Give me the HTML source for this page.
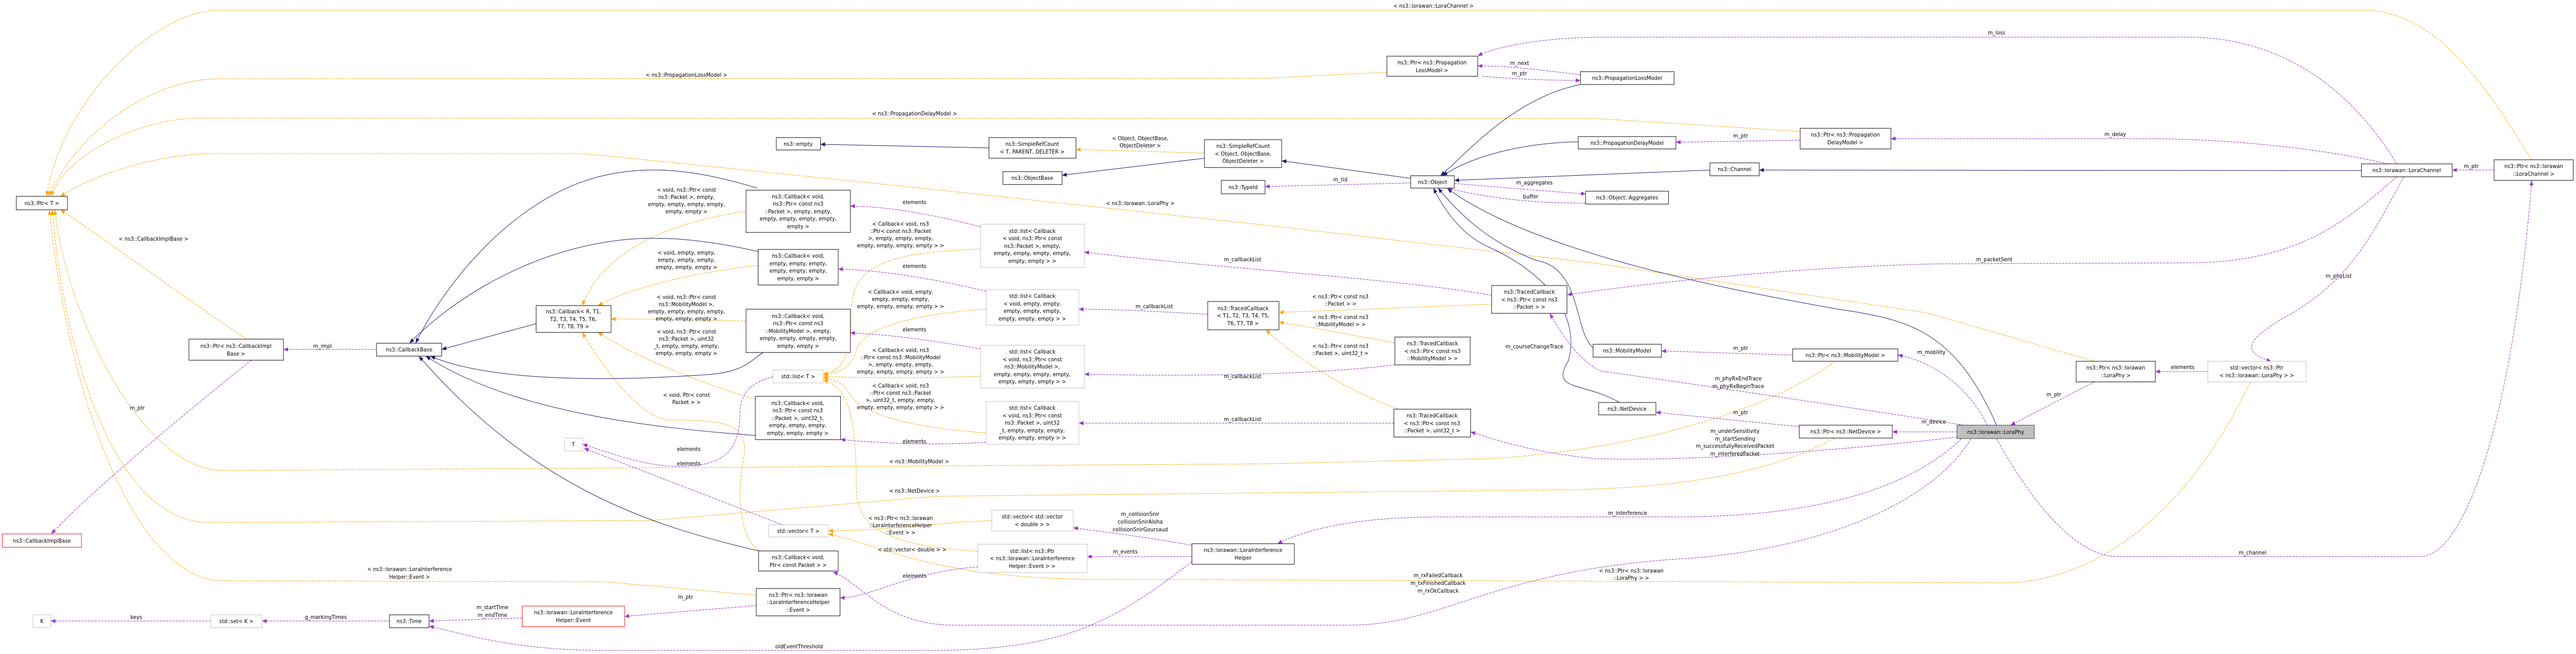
<!DOCTYPE html>
<html><head><meta charset="utf-8"><style>
html,body{margin:0;padding:0;background:#fff;overflow:hidden;width:100%;height:100%;}
svg{display:block;width:100vw;height:100vh;font-family:"DejaVu Sans","Liberation Sans",sans-serif;font-size:11px;}
.n{fill:#fff;stroke:#000;stroke-width:1}
.g{fill:#fff;stroke:#bfbfbf;stroke-width:1}
.r{fill:#fff;stroke:#ff0000;stroke-width:1}
.s{fill:#bfbfbf;stroke:#404040;stroke-width:1}
.nv{fill:none;stroke:#191970;stroke-width:1;marker-end:url(#an)}
.pu{fill:none;stroke:#9a32cd;stroke-width:1;stroke-dasharray:5,2;marker-end:url(#ap)}
.or{fill:none;stroke:#ffa500;stroke-width:1;stroke-dasharray:5,2;marker-end:url(#ao)}
text{fill:#000;text-anchor:middle}
</style></head><body>
<svg viewBox="0 0 5535 1269" preserveAspectRatio="none" xmlns="http://www.w3.org/2000/svg">
<defs>
<marker id="an" markerUnits="userSpaceOnUse" markerWidth="10" markerHeight="8" refX="10" refY="4" orient="auto"><path d="M0,0L10,4L0,8z" fill="#191970"/></marker>
<marker id="ap" markerUnits="userSpaceOnUse" markerWidth="10" markerHeight="8" refX="10" refY="4" orient="auto"><path d="M0,0L10,4L0,8z" fill="#9a32cd"/></marker>
<marker id="ao" markerUnits="userSpaceOnUse" markerWidth="10" markerHeight="8" refX="10" refY="4" orient="auto"><path d="M0,0L10,4L0,8z" fill="#ffa500"/></marker>
</defs>

<path class="or" d="M5440,310 C5380,230 5260,20 5080,20 L470,20 C330,20 130,200 100,381"/>
<path class="or" d="M2980,140 L2720,152 L470,153 C330,153 170,250 104,381"/>
<path class="or" d="M3868,255 L3430,230 L430,229 C300,229 140,300 110,381"/>
<path class="or" d="M4500,701 L4140,607 L3430,511 L2720,437 L2010,368 L1300,302 L1250,298 L470,298 C330,298 200,340 130,381"/>
<path class="or" d="M530,658 C400,580 250,480 130,407"/>
<path class="or" d="M3942,701 C3800,800 3500,874 3200,890 L2720,900 L480,913 C300,913 140,600 118,407"/>
<path class="or" d="M3942,850 C3800,920 3600,951 3300,951 L2010,963 L1400,1010 L450,1014 C250,1014 140,700 112,407"/>
<path class="or" d="M1625,1155 L1300,1129 L480,1127 C300,1127 150,800 106,407"/>
<path class="or" d="M1603,410 C1450,430 1300,480 1251,593"/>
<path class="or" d="M1629,515 C1480,530 1350,560 1285,593"/>
<path class="or" d="M1603,623 C1500,620 1400,619 1313,619"/>
<path class="or" d="M1623,775 C1500,740 1380,700 1285,645"/>
<path class="or" d="M1630,1069 C1590,1040 1580,960 1600,880 C1605,820 1550,815 1440,815 C1380,815 1300,720 1251,645"/>
<path class="or" d="M2107,483 C1950,490 1830,500 1830,600 C1830,690 1810,720 1769,726"/>
<path class="or" d="M2119,600 C1950,610 1850,640 1840,680 C1830,710 1810,722 1769,728"/>
<path class="or" d="M2107,730 C1950,735 1850,732 1769,731"/>
<path class="or" d="M2119,840 C1950,830 1850,800 1830,770 C1815,745 1800,738 1769,734"/>
<path class="or" d="M2101,1070 C1950,1060 1840,1040 1840,950 C1840,800 1820,750 1769,738"/>
<path class="or" d="M2131,1010 C2000,1015 1900,1030 1780,1030"/>
<path class="or" d="M4835,741 C4700,1000 4500,1131 4300,1131 L2336,1124 C2000,1120 1900,1060 1780,1036"/>
<path class="or" d="M3205,590 C3000,598 2850,603 2748,606"/>
<path class="or" d="M2997,665 C2900,650 2820,635 2748,625"/>
<path class="or" d="M3005,794 C2900,760 2790,700 2720,640"/>
<path class="or" d="M2588,297 L2312,290"/>

<path class="nv" d="M2125,287 L1763,280"/>
<path class="nv" d="M2588,307 L2282,340"/>
<path class="nv" d="M3031,346 L2754,312"/>
<path class="nv" d="M3396,164 C3250,190 3150,300 3095,341"/>
<path class="nv" d="M3391,275 C3250,278 3150,310 3100,341"/>
<path class="nv" d="M3674,330 L3125,350"/>
<path class="nv" d="M5074,331 L3780,330"/>
<path class="nv" d="M3423,675 C3380,640 3400,520 3300,505 C3200,470 3140,420 3090,365"/>
<path class="nv" d="M3480,781 C3400,740 3330,760 3370,700 C3400,600 3300,520 3200,480 C3150,460 3110,420 3080,365"/>
<path class="nv" d="M4290,825 C4200,640 4100,620 3950,600 C3700,560 3300,490 3110,366"/>
<path class="nv" d="M1627,365 C1500,330 1400,320 1300,340 C1100,380 950,560 893,666"/>
<path class="nv" d="M1629,488 C1500,462 1400,455 1300,470 C1100,500 950,600 880,666"/>
<path class="nv" d="M1152,628 L949,678"/>
<path class="nv" d="M1640,684 C1610,700 1600,725 1500,728 C1300,740 1050,740 925,691"/>
<path class="nv" d="M1623,845 C1400,830 1100,800 915,691"/>
<path class="nv" d="M1630,1069 C1400,1020 1150,950 900,691"/>

<path class="pu" d="M809,678 L609,678"/>
<path class="pu" d="M540,699 C400,800 200,950 110,1036"/>
<path class="pu" d="M453,1205 L109,1205"/>
<path class="pu" d="M837,1205 L563,1205"/>
<path class="pu" d="M1122,1199 L922,1205"/>
<path class="pu" d="M2561,1090 C2400,1200 2300,1262 2000,1262 L1300,1262 C1100,1262 1000,1230 922,1215"/>
<path class="pu" d="M1625,1175 L1342,1196"/>
<path class="pu" d="M2101,1100 C1950,1110 1870,1160 1805,1160"/>
<path class="pu" d="M1661,731 C1620,740 1590,760 1590,800 C1590,870 1560,905 1460,905 C1380,905 1300,875 1252,862"/>
<path class="pu" d="M1680,1018 C1600,990 1400,920 1255,870"/>
<path class="pu" d="M2107,440 C2000,415 1900,400 1827,400"/>
<path class="pu" d="M2119,565 C2000,540 1900,525 1801,522"/>
<path class="pu" d="M2107,677 C2000,660 1900,648 1827,646"/>
<path class="pu" d="M2119,858 C2000,865 1900,860 1806,853"/>
<path class="pu" d="M2595,610 C2500,605 2400,600 2318,600"/>
<path class="pu" d="M3205,573 C3000,540 2600,520 2330,489"/>
<path class="pu" d="M2997,708 C2800,730 2500,730 2330,726"/>
<path class="pu" d="M2995,821 L2318,821"/>
<path class="pu" d="M3396,145 C3300,135 3250,128 3175,128"/>
<path class="pu" d="M3185,148 C3250,153 3320,156 3396,156"/>
<path class="pu" d="M3031,355 L2718,362"/>
<path class="pu" d="M3125,356 C3250,365 3330,372 3407,376"/>
<path class="pu" d="M3407,394 C3300,395 3200,385 3110,365"/>
<path class="pu" d="M3868,272 L3601,276"/>
<path class="pu" d="M5150,318 C5050,170 4900,72 4700,72 L3430,72 C3300,75 3220,90 3175,108"/>
<path class="pu" d="M5130,318 C5000,290 4800,269 4600,269 L4063,269"/>
<path class="pu" d="M5150,343 C5050,420 4950,510 4700,510 L4160,512 C3800,520 3500,555 3367,572"/>
<path class="pu" d="M5165,343 C5100,450 5050,550 4900,620 C4850,650 4800,680 4880,701"/>
<path class="pu" d="M4744,721 L4631,721"/>
<path class="pu" d="M4500,741 L4320,825"/>
<path class="pu" d="M4290,851 C4350,950 4450,1080 4550,1080 L5200,1080 C5300,1080 5400,800 5440,350"/>
<path class="pu" d="M5359,330 L5269,330"/>
<path class="pu" d="M4270,825 C4230,750 4150,700 4078,689"/>
<path class="pu" d="M4205,838 L4066,838"/>
<path class="pu" d="M3852,689 L3570,681"/>
<path class="pu" d="M3866,828 L3558,800"/>
<path class="pu" d="M4220,825 C3900,780 3600,740 3440,720 C3390,700 3350,640 3330,608"/>
<path class="pu" d="M4205,848 C3900,880 3600,895 3430,890 C3300,880 3200,850 3160,838"/>
<path class="pu" d="M4215,851 C4100,950 3900,1003 3600,1003 L3100,1003 C2900,1003 2800,1030 2745,1055"/>
<path class="pu" d="M4235,851 C4150,980 3900,1070 3600,1085 C3200,1110 3100,1213 2900,1213 L2050,1213 C1900,1213 1850,1130 1790,1110"/>
<path class="pu" d="M2561,1080 L2336,1080"/>
<path class="pu" d="M2561,1058 C2450,1040 2350,1030 2306,1024"/>

<text x="3080" y="15">&lt; ns3::lorawan::LoraChannel &gt;</text>
<text x="1475" y="149">&lt; ns3::PropagationLossModel &gt;</text>
<text x="1965" y="224">&lt; ns3::PropagationDelayModel &gt;</text>
<text x="2450" y="398">&lt; ns3::lorawan::LoraPhy &gt;</text>
<text x="330" y="467">&lt; ns3::CallbackImplBase &gt;</text>
<text x="1975" y="899">&lt; ns3::MobilityModel &gt;</text>
<text x="1965" y="956">&lt; ns3::NetDevice &gt;</text>
<text x="880" y="1108">&lt; ns3::lorawan::LoraInterference</text>
<text x="880" y="1123">Helper::Event &gt;</text>
<text x="1475" y="372">&lt; void, ns3::Ptr&lt; const</text>
<text x="1475" y="386">ns3::Packet &gt;, empty,</text>
<text x="1475" y="400">empty, empty, empty, empty,</text>
<text x="1475" y="414">empty, empty &gt;</text>
<text x="1475" y="494">&lt; void, empty, empty,</text>
<text x="1475" y="508">empty, empty, empty,</text>
<text x="1475" y="522">empty, empty, empty &gt;</text>
<text x="1475" y="580">&lt; void, ns3::Ptr&lt; const</text>
<text x="1475" y="594">ns3::MobilityModel &gt;,</text>
<text x="1475" y="608">empty, empty, empty, empty,</text>
<text x="1475" y="622">empty, empty, empty &gt;</text>
<text x="1475" y="647">&lt; void, ns3::Ptr&lt; const</text>
<text x="1475" y="661">ns3::Packet &gt;, uint32</text>
<text x="1475" y="675">_t, empty, empty, empty,</text>
<text x="1475" y="689">empty, empty, empty &gt;</text>
<text x="1475" y="770">&lt; void, Ptr&lt; const</text>
<text x="1475" y="784">Packet &gt; &gt;</text>
<text x="1480" y="875">elements</text>
<text x="1480" y="903">elements</text>
<text x="1965" y="396">elements</text>
<text x="1965" y="520">elements</text>
<text x="1965" y="643">elements</text>
<text x="1965" y="860">elements</text>
<text x="1965" y="1121">elements</text>
<text x="1935" y="438">&lt; Callback&lt; void, ns3</text>
<text x="1935" y="452">::Ptr&lt; const ns3::Packet</text>
<text x="1935" y="466">&gt;, empty, empty, empty,</text>
<text x="1935" y="480">empty, empty, empty, empty &gt; &gt;</text>
<text x="1935" y="570">&lt; Callback&lt; void, empty,</text>
<text x="1935" y="584">empty, empty, empty,</text>
<text x="1935" y="598">empty, empty, empty, empty &gt; &gt;</text>
<text x="1935" y="683">&lt; Callback&lt; void, ns3</text>
<text x="1935" y="697">::Ptr&lt; const ns3::MobilityModel</text>
<text x="1935" y="711">&gt;, empty, empty, empty,</text>
<text x="1935" y="725">empty, empty, empty, empty &gt; &gt;</text>
<text x="1935" y="752">&lt; Callback&lt; void, ns3</text>
<text x="1935" y="766">::Ptr&lt; const ns3::Packet</text>
<text x="1935" y="780">&gt;, uint32_t, empty, empty,</text>
<text x="1935" y="794">empty, empty, empty, empty &gt; &gt;</text>
<text x="1935" y="1009">&lt; ns3::Ptr&lt; ns3::lorawan</text>
<text x="1935" y="1023">::LoraInterferenceHelper</text>
<text x="1935" y="1037">::Event &gt; &gt;</text>
<text x="1960" y="1070">&lt; std::vector&lt; double &gt; &gt;</text>
<text x="3505" y="1111">&lt; ns3::Ptr&lt; ns3::lorawan</text>
<text x="3505" y="1125">::LoraPhy &gt; &gt;</text>
<text x="2880" y="579">&lt; ns3::Ptr&lt; const ns3</text>
<text x="2880" y="593">::Packet &gt; &gt;</text>
<text x="2880" y="619">&lt; ns3::Ptr&lt; const ns3</text>
<text x="2880" y="633">::MobilityModel &gt; &gt;</text>
<text x="2880" y="675">&lt; ns3::Ptr&lt; const ns3</text>
<text x="2880" y="689">::Packet &gt;, uint32_t &gt;</text>
<text x="2450" y="272">&lt; Object, ObjectBase,</text>
<text x="2450" y="286">ObjectDeleter &gt;</text>
<text x="693" y="675">m_impl</text>
<text x="295" y="795">m_ptr</text>
<text x="293" y="1201">keys</text>
<text x="700" y="1201">g_markingTimes</text>
<text x="1058" y="1182">m_startTime</text>
<text x="1058" y="1197">m_endTime</text>
<text x="1717" y="1258">oldEventThreshold</text>
<text x="1473" y="1162">m_ptr</text>
<text x="2480" y="598">m_callbackList</text>
<text x="2670" y="507">m_callbackList</text>
<text x="2670" y="734">m_callbackList</text>
<text x="2670" y="817">m_callbackList</text>
<text x="3265" y="126">m_next</text>
<text x="3265" y="146">m_ptr</text>
<text x="2880" y="352">m_tid</text>
<text x="3297" y="358">m_aggregates</text>
<text x="3289" y="385">buffer</text>
<text x="3740" y="267">m_ptr</text>
<text x="4290" y="67">m_loss</text>
<text x="4545" y="264">m_delay</text>
<text x="4285" y="507">m_packetSent</text>
<text x="5025" y="539">m_phyList</text>
<text x="4690" y="716">elements</text>
<text x="4413" y="769">m_ptr</text>
<text x="4840" y="1076">m_channel</text>
<text x="5310" y="326">m_ptr</text>
<text x="4150" y="687">m_mobility</text>
<text x="4155" y="822">m_device</text>
<text x="3740" y="679">m_ptr</text>
<text x="3740" y="804">m_ptr</text>
<text x="3297" y="676">m_courseChangeTrace</text>
<text x="3735" y="738">m_phyRxEndTrace</text>
<text x="3735" y="753">m_phyRxBeginTrace</text>
<text x="3728" y="840">m_underSensitivity</text>
<text x="3728" y="855">m_startSending</text>
<text x="3728" y="869">m_successfullyReceivedPacket</text>
<text x="3728" y="884">m_interferedPacket</text>
<text x="3497" y="999">m_interference</text>
<text x="3090" y="1120">m_rxFailedCallback</text>
<text x="3090" y="1135">m_txFinishedCallback</text>
<text x="3090" y="1150">m_rxOkCallback</text>
<text x="2418" y="1074">m_events</text>
<text x="2450" y="1001">m_collisionSnir</text>
<text x="2450" y="1016">collisionSnirAloha</text>
<text x="2450" y="1031">collisionSnirGoursaud</text>

<rect class="n" x="35" y="381" width="110" height="26"/><text x="90" y="398">ns3::Ptr&lt; T &gt;</text>
<rect class="n" x="406" y="658" width="203" height="41"/><text x="507" y="675">ns3::Ptr&lt; ns3::CallbackImpl</text><text x="507" y="690">Base &gt;</text>
<rect class="r" x="5" y="1036" width="170" height="26"/><text x="90" y="1053">ns3::CallbackImplBase</text>
<rect class="n" x="809" y="666" width="140" height="25"/><text x="879" y="682">ns3::CallbackBase</text>
<rect class="n" x="1152" y="593" width="161" height="52"/><text x="1232" y="608">ns3::Callback&lt; R, T1,</text><text x="1232" y="623">T2, T3, T4, T5, T6,</text><text x="1232" y="637">T7, T8, T9 &gt;</text>
<rect class="g" x="1213" y="850" width="39" height="25"/><text x="1232" y="866">T</text>
<rect class="g" x="71" y="1193" width="38" height="25"/><text x="90" y="1209">K</text>
<rect class="g" x="453" y="1193" width="110" height="25"/><text x="508" y="1209">std::set&lt; K &gt;</text>
<rect class="n" x="837" y="1193" width="85" height="25"/><text x="879" y="1209">ns3::Time</text>
<rect class="r" x="1122" y="1176" width="220" height="40"/><text x="1232" y="1192">ns3::lorawan::LoraInterference</text><text x="1232" y="1207">Helper::Event</text>
<rect class="n" x="1668" y="267" width="95" height="24"/><text x="1715" y="283">ns3::empty</text>
<rect class="n" x="1603" y="369" width="224" height="82"/><text x="1715" y="385">ns3::Callback&lt; void,</text><text x="1715" y="399">ns3::Ptr&lt; const ns3</text><text x="1715" y="414">::Packet &gt;, empty, empty,</text><text x="1715" y="428">empty, empty, empty, empty,</text><text x="1715" y="443">empty &gt;</text>
<rect class="n" x="1629" y="484" width="172" height="69"/><text x="1715" y="500">ns3::Callback&lt; void,</text><text x="1715" y="515">empty, empty, empty,</text><text x="1715" y="529">empty, empty, empty,</text><text x="1715" y="544">empty, empty &gt;</text>
<rect class="n" x="1603" y="600" width="224" height="84"/><text x="1715" y="617">ns3::Callback&lt; void,</text><text x="1715" y="631">ns3::Ptr&lt; const ns3</text><text x="1715" y="646">::MobilityModel &gt;, empty,</text><text x="1715" y="660">empty, empty, empty, empty,</text><text x="1715" y="675">empty, empty &gt;</text>
<rect class="g" x="1661" y="718" width="108" height="25"/><text x="1715" y="734">std::list&lt; T &gt;</text>
<rect class="n" x="1623" y="769" width="183" height="84"/><text x="1714" y="786">ns3::Callback&lt; void,</text><text x="1714" y="800">ns3::Ptr&lt; const ns3</text><text x="1714" y="815">::Packet &gt;, uint32_t,</text><text x="1714" y="829">empty, empty, empty,</text><text x="1714" y="844">empty, empty, empty &gt;</text>
<rect class="g" x="1651" y="1018" width="129" height="24"/><text x="1715" y="1034">std::vector&lt; T &gt;</text>
<rect class="n" x="1630" y="1069" width="171" height="39"/><text x="1715" y="1085">ns3::Callback&lt; void,</text><text x="1715" y="1100">Ptr&lt; const Packet &gt; &gt;</text>
<rect class="n" x="1625" y="1142" width="180" height="53"/><text x="1715" y="1158">ns3::Ptr&lt; ns3::lorawan</text><text x="1715" y="1172">::LoraInterferenceHelper</text><text x="1715" y="1187">::Event &gt;</text>
<rect class="n" x="2125" y="267" width="187" height="40"/><text x="2218" y="283">ns3::SimpleRefCount</text><text x="2218" y="298">&lt; T, PARENT, DELETER &gt;</text>
<rect class="n" x="2155" y="333" width="127" height="25"/><text x="2218" y="349">ns3::ObjectBase</text>
<rect class="n" x="2588" y="271" width="166" height="54"/><text x="2671" y="287">ns3::SimpleRefCount</text><text x="2671" y="302">&lt; Object, ObjectBase,</text><text x="2671" y="316">ObjectDeleter &gt;</text>
<rect class="n" x="2624" y="350" width="94" height="26"/><text x="2671" y="367">ns3::TypeId</text>
<rect class="g" x="2107" y="435" width="223" height="84"/><text x="2218" y="452">std::list&lt; Callback</text><text x="2218" y="466">&lt; void, ns3::Ptr&lt; const</text><text x="2218" y="481">ns3::Packet &gt;, empty,</text><text x="2218" y="495">empty, empty, empty, empty,</text><text x="2218" y="510">empty, empty &gt; &gt;</text>
<rect class="g" x="2119" y="562" width="199" height="69"/><text x="2218" y="578">std::list&lt; Callback</text><text x="2218" y="593">&lt; void, empty, empty,</text><text x="2218" y="607">empty, empty, empty,</text><text x="2218" y="622">empty, empty, empty &gt; &gt;</text>
<rect class="g" x="2107" y="670" width="223" height="83"/><text x="2218" y="686">std::list&lt; Callback</text><text x="2218" y="701">&lt; void, ns3::Ptr&lt; const</text><text x="2218" y="715">ns3::MobilityModel &gt;,</text><text x="2218" y="730">empty, empty, empty, empty,</text><text x="2218" y="744">empty, empty, empty &gt; &gt;</text>
<rect class="g" x="2119" y="779" width="199" height="83"/><text x="2218" y="795">std::list&lt; Callback</text><text x="2218" y="810">&lt; void, ns3::Ptr&lt; const</text><text x="2218" y="824">ns3::Packet &gt;, uint32</text><text x="2218" y="839">_t, empty, empty, empty,</text><text x="2218" y="853">empty, empty, empty &gt; &gt;</text>
<rect class="g" x="2131" y="990" width="175" height="40"/><text x="2218" y="1006">std::vector&lt; std::vector</text><text x="2218" y="1021">&lt; double &gt; &gt;</text>
<rect class="g" x="2101" y="1056" width="235" height="55"/><text x="2218" y="1073">std::list&lt; ns3::Ptr</text><text x="2218" y="1087">&lt; ns3::lorawan::LoraInterference</text><text x="2218" y="1102">Helper::Event &gt; &gt;</text>
<rect class="n" x="2595" y="585" width="153" height="55"/><text x="2671" y="602">ns3::TracedCallback</text><text x="2671" y="616">&lt; T1, T2, T3, T4, T5,</text><text x="2671" y="631">T6, T7, T8 &gt;</text>
<rect class="n" x="2561" y="1055" width="220" height="40"/><text x="2671" y="1071">ns3::lorawan::LoraInterference</text><text x="2671" y="1086">Helper</text>
<rect class="n" x="2980" y="109" width="195" height="39"/><text x="3077" y="125">ns3::Ptr&lt; ns3::Propagation</text><text x="3077" y="140">LossModel &gt;</text>
<rect class="n" x="3031" y="341" width="94" height="24"/><text x="3078" y="357">ns3::Object</text>
<rect class="n" x="3396" y="139" width="201" height="25"/><text x="3496" y="155">ns3::PropagationLossModel</text>
<rect class="n" x="3391" y="265" width="210" height="24"/><text x="3496" y="281">ns3::PropagationDelayModel</text>
<rect class="n" x="3407" y="371" width="178" height="25"/><text x="3496" y="387">ns3::Object::Aggregates</text>
<rect class="n" x="3205" y="554" width="162" height="54"/><text x="3286" y="570">ns3::TracedCallback</text><text x="3286" y="585">&lt; ns3::Ptr&lt; const ns3</text><text x="3286" y="599">::Packet &gt; &gt;</text>
<rect class="n" x="2997" y="654" width="162" height="54"/><text x="3078" y="670">ns3::TracedCallback</text><text x="3078" y="685">&lt; ns3::Ptr&lt; const ns3</text><text x="3078" y="699">::MobilityModel &gt; &gt;</text>
<rect class="n" x="2995" y="794" width="165" height="54"/><text x="3077" y="810">ns3::TracedCallback</text><text x="3077" y="825">&lt; ns3::Ptr&lt; const ns3</text><text x="3077" y="839">::Packet &gt;, uint32_t &gt;</text>
<rect class="n" x="3423" y="668" width="147" height="25"/><text x="3496" y="684">ns3::MobilityModel</text>
<rect class="n" x="3435" y="781" width="123" height="24"/><text x="3496" y="797">ns3::NetDevice</text>
<rect class="n" x="3674" y="316" width="106" height="25"/><text x="3727" y="332">ns3::Channel</text>
<rect class="n" x="3868" y="249" width="195" height="40"/><text x="3965" y="265">ns3::Ptr&lt; ns3::Propagation</text><text x="3965" y="280">DelayModel &gt;</text>
<rect class="n" x="3852" y="677" width="226" height="24"/><text x="3965" y="693">ns3::Ptr&lt; ns3::MobilityModel &gt;</text>
<rect class="n" x="3866" y="825" width="200" height="25"/><text x="3966" y="841">ns3::Ptr&lt; ns3::NetDevice &gt;</text>
<rect class="s" x="4205" y="825" width="166" height="26"/><text x="4288" y="842">ns3::lorawan::LoraPhy</text>
<rect class="n" x="4461" y="701" width="170" height="40"/><text x="4546" y="717">ns3::Ptr&lt; ns3::lorawan</text><text x="4546" y="732">::LoraPhy &gt;</text>
<rect class="g" x="4744" y="701" width="211" height="40"/><text x="4849" y="717">std::vector&lt; ns3::Ptr</text><text x="4849" y="732">&lt; ns3::lorawan::LoraPhy &gt; &gt;</text>
<rect class="n" x="5074" y="318" width="195" height="25"/><text x="5171" y="334">ns3::lorawan::LoraChannel</text>
<rect class="n" x="5359" y="310" width="170" height="40"/><text x="5444" y="326">ns3::Ptr&lt; ns3::lorawan</text><text x="5444" y="341">::LoraChannel &gt;</text>
</svg>
</body></html>
